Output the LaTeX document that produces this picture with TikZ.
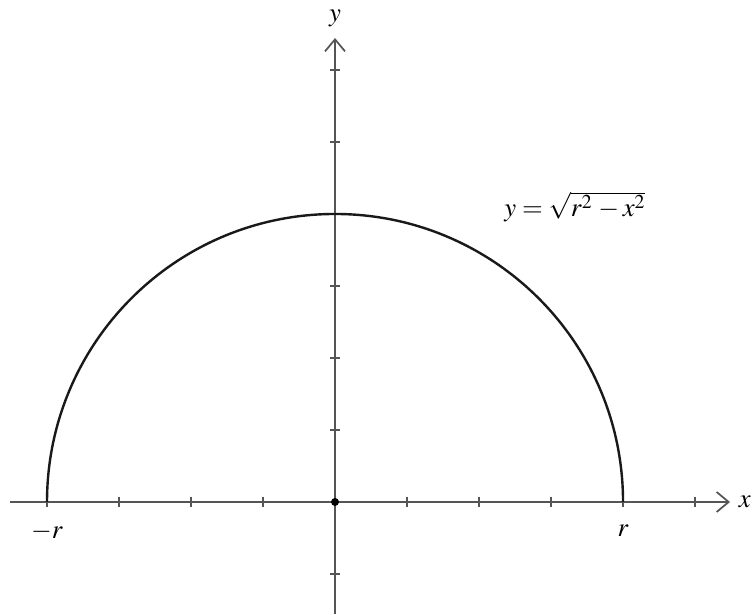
\documentclass[tikz,border=0pt]{standalone}
\usepackage{mathptmx}
\usetikzlibrary{arrows.meta}
\definecolor{axisgray}{RGB}{85,85,85}
\tikzset{
  axisline/.style={draw=axisgray, line width=1.1pt},
  ticks/.style={draw=axisgray, line width=1pt},
  curve/.style={draw=black!90, line width=1.8pt},
  lbl/.style={font=\fontsize{20}{24}\selectfont, inner sep=0pt},
  barb/.style={-{Straight Barb[length=9pt,width=15pt,line width=1.3pt]}}
}
\begin{document}
\begin{tikzpicture}[x=54pt,y=54pt]
\useasboundingbox (-4.653,-1.556) rectangle (5.819,6.972);
\coordinate (xl) at (-4.514,0);
\coordinate (xr) at (5.486,0);
\coordinate (yb) at (0,-1.556);
\coordinate (yt) at (0,6.444);
\coordinate (O) at (0,0);
\draw[axisline,barb] (xl) -- (xr);
\draw[axisline,barb] (yb) -- (yt);
\foreach \i in {-4,-3,-2,-1,1,2,3,4,5} \draw[ticks] (\i,-0.07) -- (\i,0.07);
\foreach \j in {-1,1,2,3,4,5,6} \draw[ticks] (-0.07,\j) -- (0.07,\j);
\draw[curve] (-4,0) arc[start angle=180,end angle=0,radius=4];
\fill[black] (O) circle (3pt);
\node[lbl] (ylab) at (0,6.71) {$y$};
\node[lbl] (xlab) at (5.69,0) {$x$};
\node[lbl] (mr) at (-4,-0.42) {$-r$};
\node[lbl] (pr) at (4,-0.40) {$r$};
\node[lbl] (eq) at (3.33,4.10) {$y=\sqrt{r^{2\,}-x^{2}}$};
\end{tikzpicture}
\end{document}
